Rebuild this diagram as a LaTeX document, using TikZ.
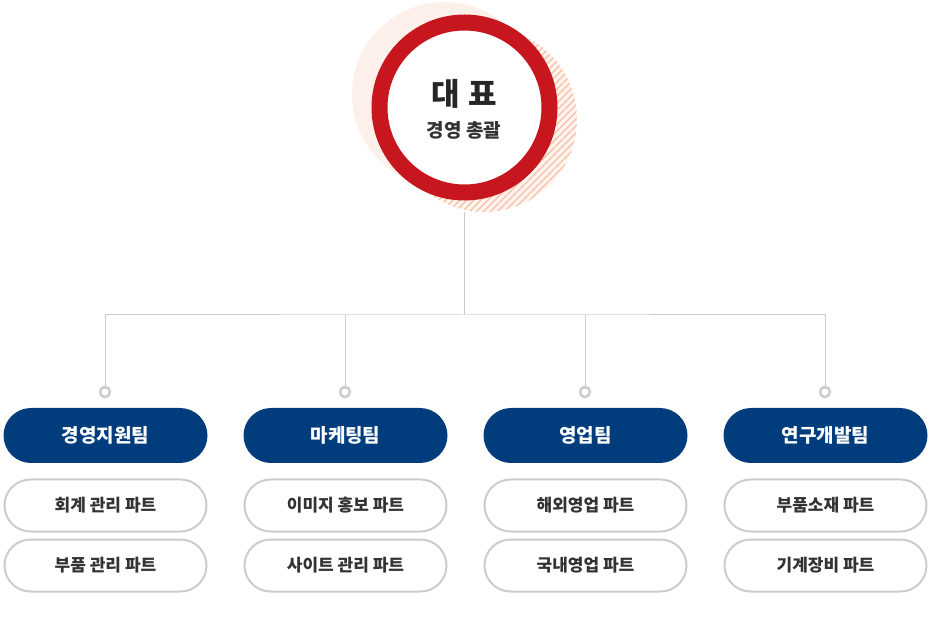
\documentclass[tikz,border=0pt]{standalone}
\usepackage{fontspec}
\setmainfont{Noto Sans CJK KR}
\usetikzlibrary{backgrounds}
\definecolor{peach}{HTML}{FDEFE9}
\definecolor{hatchbg}{HTML}{FFF4F0}
\definecolor{hatchln}{HTML}{F9BFA3}
\definecolor{ringred}{HTML}{C8161E}
\definecolor{navy}{HTML}{013D7C}
\definecolor{linegray}{HTML}{CCCCCC}
\definecolor{txt}{HTML}{333333}
\tikzset{
  conn/.style={draw=linegray, line width=1pt},
  dotc/.style={circle, draw=linegray, line width=2.5pt, fill=white, minimum size=10pt, inner sep=0pt},
  team/.style={rectangle, rounded corners=27.5pt, fill=navy, text=white, minimum width=204pt, minimum height=55pt, inner sep=0pt, font=\bfseries\fontsize{19}{22}\selectfont},
  part/.style={rectangle, rounded corners=26pt, draw=linegray, line width=2pt, fill=white, text=txt, minimum width=202pt, minimum height=52pt, inner sep=0pt, font=\bfseries\fontsize{17}{20}\selectfont},
}
\begin{document}
\begin{tikzpicture}[x=1pt,y=-1pt]
\useasboundingbox (0,0) rectangle (930,620);
% decorative circles
\node[circle, fill=peach, minimum size=185pt, inner sep=0pt] (glow) at (444.5,94.5) {};
\node[circle, fill=hatchbg, minimum size=185pt, inner sep=0pt] (hatch) at (484.5,119.5) {};
\begin{scope}
  \clip (484.5,119.5) circle (92.5pt);
  \foreach \i in {-301,-294,...,301}
    \draw[hatchln, line width=1.4pt] (484.5+\i-120,119.5+120) -- (484.5+\i+120,119.5-120);
\end{scope}
% CEO ring
\node[circle, draw=ringred, line width=16pt, fill=white, minimum size=170pt, inner sep=0pt] (ceo) at (464.5,107.5) {};
\node[text=black!85, font=\bfseries\fontsize{31}{34}\selectfont] (title) at (464.5,94) {대\hspace{9pt}표};
\node[text=txt, font=\bfseries\fontsize{19}{22}\selectfont] (subtitle) at (464,130) {경영 총괄};
% dots
\node[dotc] (dot1) at (105,392) {};
\node[dotc] (dot2) at (345,392) {};
\node[dotc] (dot3) at (585,392) {};
\node[dotc] (dot4) at (825,392) {};
% connectors
\coordinate (j) at (464.5,315);
\begin{scope}[on background layer]
\draw[conn] (ceo.south |- hatch.south) -- (j);
\draw[conn] (dot1.center) |- (j) -| (dot4.center);
\draw[conn] (dot2.center) -- (dot2.center |- j);
\draw[conn] (dot3.center) -- (dot3.center |- j);
\end{scope}
% teams
\node[team] (t1) at (105.5,435.5) {경영지원팀};
\node[team] (t2) at (345.5,435.5) {마케팅팀};
\node[team] (t3) at (585.5,435.5) {영업팀};
\node[team] (t4) at (825.5,435.5) {연구개발팀};
% parts
\node[part] (p11) at (105.5,505.5) {회계 관리 파트};
\node[part] (p12) at (105.5,565.5) {부품 관리 파트};
\node[part] (p21) at (345.5,505.5) {이미지 홍보 파트};
\node[part] (p22) at (345.5,565.5) {사이트 관리 파트};
\node[part] (p31) at (585.5,505.5) {해외영업 파트};
\node[part] (p32) at (585.5,565.5) {국내영업 파트};
\node[part] (p41) at (825.5,505.5) {부품소재 파트};
\node[part] (p42) at (825.5,565.5) {기계장비 파트};
\end{tikzpicture}
\end{document}
